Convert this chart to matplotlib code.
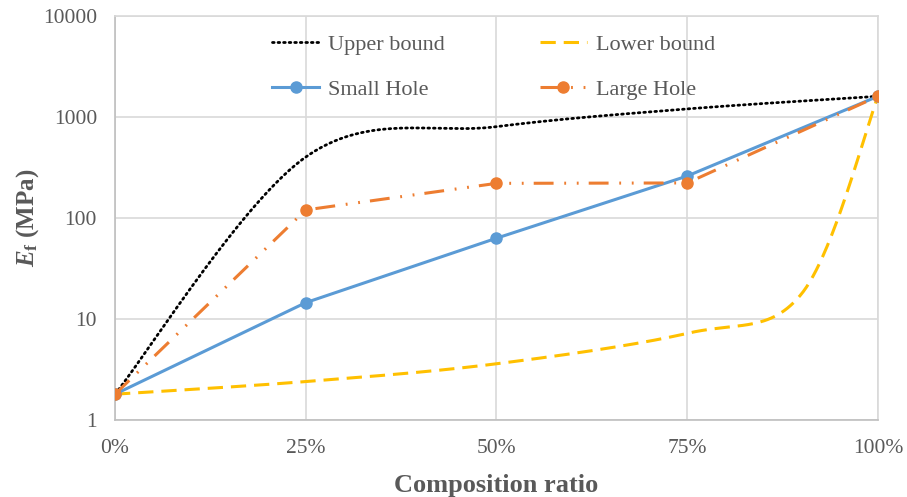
import numpy as np
import matplotlib.pyplot as plt
from matplotlib.lines import Line2D
from matplotlib.ticker import FixedLocator, NullLocator

plt.rcParams['font.family'] = ['Liberation Serif', 'DejaVu Serif']
plt.rcParams['mathtext.fontset'] = 'custom'
plt.rcParams['mathtext.rm'] = 'Liberation Serif:bold'
plt.rcParams['mathtext.it'] = 'Liberation Serif:bold:italic'
plt.rcParams['mathtext.bf'] = 'Liberation Serif:bold'

# composition ratio and modulus values (MPa)
ratio = [0, 0.25, 0.5, 0.75, 1.0]
upper_bound = [1.8, 401, 801, 1200, 1600]
lower_ratio = [0, 0.25, 0.5, 0.75, 0.9, 1.0]
lower_bound = [1.8, 2.4, 3.6, 7.2, 17.8, 1600]
small_hole = [1.8, 14.5, 63, 260, 1600]
large_hole = [1.8, 120, 220, 222, 1600]

x_ticks = [0, 0.25, 0.5, 0.75, 1.0]
x_labels = ['0%', '25%', '50%', '75%', '100%']
y_ticks = [1, 10, 100, 1000, 10000]
y_labels = ['1', '10', '100', '1000', '10000']

BLUE = '#5B9BD5'
ORANGE = '#ED7D31'
YELLOW = '#FFC000'
GRAY_TXT = '#595959'


def smooth(xs, ys, n=60):
    # smoothed line: Catmull-Rom bezier through the points in (x, log y)
    px = np.asarray(xs, float)
    py = np.log10(np.asarray(ys, float))
    out_x, out_y = [], []
    m = len(px)
    for i in range(m - 1):
        i0 = max(i - 1, 0)
        i3 = min(i + 2, m - 1)
        p0 = np.array([px[i], py[i]])
        p3 = np.array([px[i + 1], py[i + 1]])
        c1 = p0 + (np.array([px[i + 1], py[i + 1]]) - np.array([px[i0], py[i0]])) / 6
        c2 = p3 - (np.array([px[i3], py[i3]]) - np.array([px[i], py[i]])) / 6
        t = np.linspace(0, 1, n, endpoint=(i == m - 2))[:, None]
        seg = ((1 - t) ** 3 * p0 + 3 * (1 - t) ** 2 * t * c1
               + 3 * (1 - t) * t ** 2 * c2 + t ** 3 * p3)
        out_x.extend(seg[:, 0])
        out_y.extend(seg[:, 1])
    return np.array(out_x), 10 ** np.array(out_y)


fig = plt.figure(figsize=(9.07, 4.97), dpi=100)
ax = fig.add_axes([0.1268, 0.155, 0.8412, 0.813])

lw = 2.2
ms = 8
dot_style = (0, (0.6, 1.4))
dash_lower = (0, (5, 2.6))
dash_large = (0, (6.5, 3.5, 0.6, 3.5, 0.6, 3.3))

ux, uy = smooth(ratio, upper_bound)
ax.plot(ux, uy, color='black', lw=2.0, linestyle=dot_style,
        dash_capstyle='round', zorder=3)

lx, ly = smooth(lower_ratio, lower_bound)
ax.plot(lx, ly, color=YELLOW, lw=lw, linestyle=dash_lower, zorder=3)

ax.plot(ratio, small_hole, color=BLUE, lw=lw, marker='o', markersize=ms,
        zorder=4)

ax.plot(ratio, large_hole, color=ORANGE, lw=lw, linestyle=dash_large,
        marker='o', markersize=ms, zorder=5)

ax.set_yscale('log')
ax.set_xlim(0, 1)
ax.set_ylim(1, 10000)
ax.xaxis.set_major_locator(FixedLocator(x_ticks))
ax.set_xticklabels(x_labels)
ax.yaxis.set_major_locator(FixedLocator(y_ticks))
ax.yaxis.set_minor_locator(NullLocator())
ax.set_yticklabels(y_labels)
ax.tick_params(length=0, labelsize=15.5, colors=GRAY_TXT)
ax.tick_params(axis='x', pad=14)
ax.tick_params(axis='y', pad=13)

ax.grid(True, color='#d9d9d9', lw=1.2, zorder=0)
ax.set_axisbelow(True)
for side in ['top', 'right']:
    ax.spines[side].set_color('#d9d9d9')
    ax.spines[side].set_linewidth(1.2)
for side in ['left', 'bottom']:
    ax.spines[side].set_color('#bfbfbf')
    ax.spines[side].set_linewidth(1.2)

ax.set_xlabel('Composition ratio', fontsize=19, fontweight='bold',
              color=GRAY_TXT, labelpad=11)
ax.set_ylabel(r'$E_{\rm f}$ (MPa)', fontsize=18, fontweight='bold',
              color=GRAY_TXT, labelpad=1)

handles = [
    Line2D([], [], color='black', lw=2.0, linestyle=dot_style,
           dash_capstyle='round'),
    Line2D([], [], color=BLUE, lw=lw, marker='o', markersize=ms),
    Line2D([], [], color=YELLOW, lw=lw, linestyle=dash_lower),
    Line2D([], [], color=ORANGE, lw=lw, linestyle=dash_large, marker='o',
           markersize=ms),
]
labels = ['Upper bound', 'Small Hole', 'Lower bound', 'Large Hole']
leg = ax.legend(handles, labels, ncol=2, frameon=False, fontsize=16,
                loc='upper left', bbox_to_anchor=(0.206, 0.955),
                borderpad=0, borderaxespad=0,
                columnspacing=4.3, handlelength=2.1, handletextpad=0.4,
                labelspacing=1.1)
for t in leg.get_texts():
    t.set_color(GRAY_TXT)

fig.savefig('out.png', dpi=100)
